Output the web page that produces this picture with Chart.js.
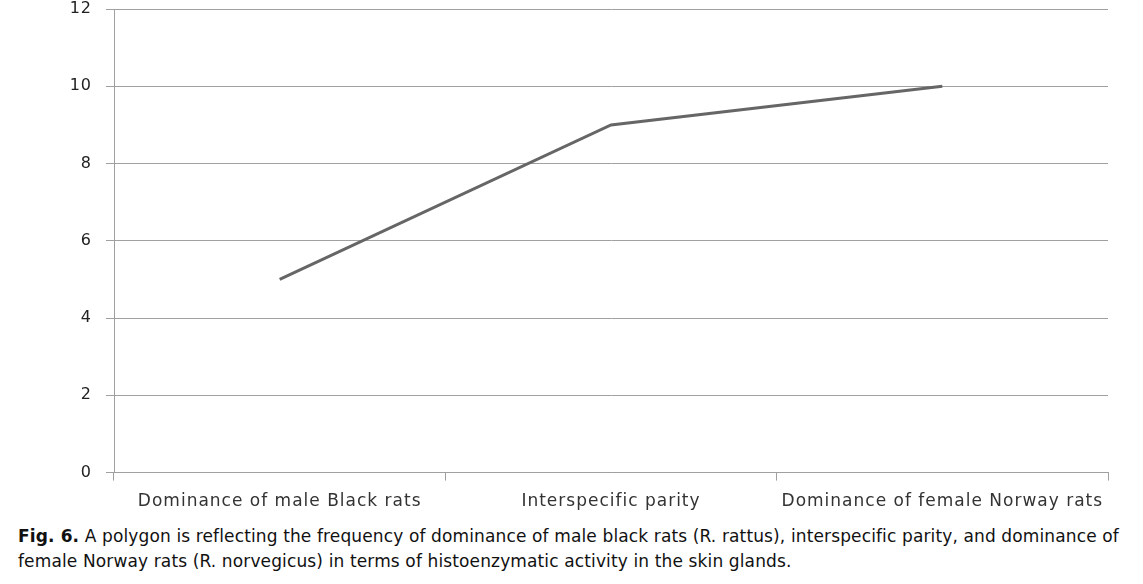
<!DOCTYPE html>
<html>
<head>
<meta charset="utf-8">
<script src="https://cdn.jsdelivr.net/npm/chart.js@4/dist/chart.umd.min.js"></script>
<style>
  body { margin: 0; background: #fff; }
  #wrap { position: relative; width: 1143px; height: 523px; }
  #caption {
    position: absolute; left: 18px; top: 524px; width: 1112px;
    font-family: "DejaVu Sans", Verdana, sans-serif; font-size: 17px;
    letter-spacing: 0.13px; line-height: 25px; color: #111;
  }
</style>
</head>
<body>
<div id="wrap"><canvas id="c"></canvas></div>
<div id="caption"><b>Fig. 6.</b> A polygon is reflecting the frequency of dominance of male black rats (R. rattus), interspecific parity, and dominance of female Norway rats (R. norvegicus) in terms of histoenzymatic activity in the skin glands.</div>
<script>
const categories = ['Dominance of male Black rats', 'Interspecific parity', 'Dominance of female Norway rats'];
const values = [5, 9, 10];
const yTicks = [0, 2, 4, 6, 8, 10, 12];

// wider letter spacing like the original export
const spacing = {
  id: 'spacing',
  beforeInit(chart) { chart.ctx.letterSpacing = '1px'; },
  beforeDraw(chart) { chart.ctx.letterSpacing = '1px'; }
};

const ctx = document.getElementById('c');
const config = {
  type: 'line',
  data: {
    labels: categories,
    datasets: [{
      data: values,
      borderColor: '#666666',
      borderWidth: 3,
      pointRadius: 0,
      tension: 0
    }]
  },
  options: {
    responsive: true,
    maintainAspectRatio: false,
    animation: false,
    layout: { padding: { top: 9, right: 35, bottom: 0, left: 0 } },
    plugins: { legend: { display: false }, tooltip: { enabled: false } },
    scales: {
      x: {
        offset: true,
        grid: { offset: true, drawOnChartArea: false, drawTicks: true, tickLength: 8, color: '#a0a0a0' },
        border: { color: '#a0a0a0' },
        ticks: { color: '#333', padding: 11, font: { family: 'DejaVu Sans', size: 17 } }
      },
      y: {
        min: 0,
        max: 12,
        afterBuildTicks: (axis) => { axis.ticks = yTicks.map(v => ({ value: v })); },
        afterFit: (axis) => { axis.width = 114; axis.paddingTop = 0; },
        grid: { color: '#a0a0a0', tickLength: 8 },
        border: { color: '#a0a0a0' },
        ticks: { color: '#222', padding: 14, font: { family: 'DejaVu Sans', size: 16 } }
      }
    }
  },
  plugins: [spacing]
};
new Chart(ctx, config);
</script>
</body>
</html>
